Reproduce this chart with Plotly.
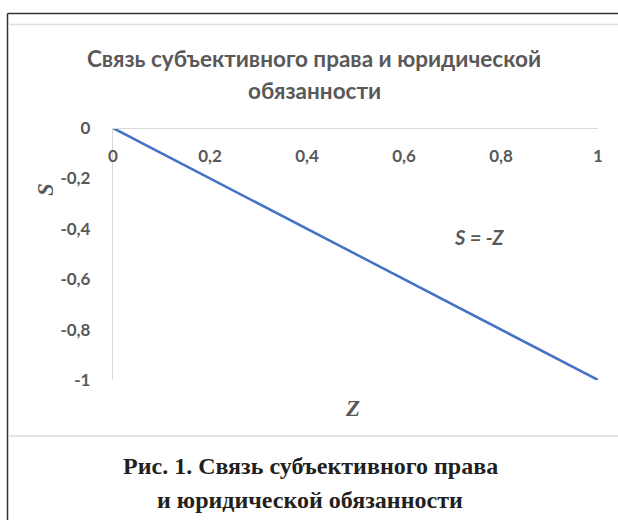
import plotly.graph_objects as go

# Data
z_values = [0, 1]
s_values = [0, -1]
x_tickvals = [0, 0.2, 0.4, 0.6, 0.8, 1]
x_ticktext = ["0", "0,2", "0,4", "0,6", "0,8", "1"]
y_tickvals = [0, -0.2, -0.4, -0.6, -0.8, -1]
y_ticktext = ["0", "-0,2", "-0,4", "-0,6", "-0,8", "-1"]
title_lines = ["Связь субъективного права и юридической", "обязанности"]
caption_lines = ["Рис. 1. Связь субъективного права", "и юридической обязанности"]
equation = "S = -Z"

W, H = 618, 520
L, R, T, B = 113, 20, 128, 140
TXT = "#595959"
GRID = "#d9d9d9"
SANS = "Lato, 'Open Sans', sans-serif"
SERIF = "'Liberation Serif', 'Times New Roman', serif"

pw, ph = W - L - R, H - T - B
def px_x(px):
    return (px - L) / pw
def px_y(py):
    return (H - B - py) / ph

fig = go.Figure()
fig.add_trace(go.Scatter(x=z_values, y=s_values, mode="lines",
                         line=dict(color="#4472c4", width=2.5),
                         hoverinfo="skip", showlegend=False))

fig.update_layout(
    width=W, height=H,
    margin=dict(l=L, r=R, t=T, b=B),
    paper_bgcolor="white", plot_bgcolor="white",
    showlegend=False,
    xaxis=dict(range=[0, 1], tickvals=x_tickvals, ticktext=x_ticktext,
               anchor="free", position=1, side="bottom",
               showline=True, linecolor=GRID, linewidth=1.3,
               showgrid=False, zeroline=False, ticks="",
               ticklabelstandoff=12,
               tickfont=dict(family=SANS, size=17, color=TXT, weight="bold")),
    yaxis=dict(range=[-1, 0], tickvals=y_tickvals, ticktext=y_ticktext,
               showline=True, linecolor=GRID, linewidth=1.3,
               showgrid=False, zeroline=False, ticks="",
               ticklabelstandoff=18,
               tickfont=dict(family=SANS, size=17, color=TXT, weight="bold")),
)

ann = []
for i, line in enumerate(title_lines):
    ann.append(dict(text=line, x=px_x(314), y=px_y(58 + 32 * i),
                    xref="paper", yref="paper", showarrow=False,
                    xanchor="center", yanchor="middle",
                    font=dict(family=SANS, size=22.5, color=TXT, weight="bold")))
for i, line in enumerate(caption_lines):
    ann.append(dict(text=line, x=px_x(310), y=px_y(466 + 34 * i),
                    xref="paper", yref="paper", showarrow=False,
                    xanchor="center", yanchor="middle",
                    font=dict(family=SERIF, size=24, color="#231f20", weight="bold")))
ann.append(dict(text="<i><b>S</b></i>", x=px_x(45), y=px_y(190), xref="paper", yref="paper",
                showarrow=False, textangle=-90, xanchor="center", yanchor="middle",
                font=dict(family=SERIF, size=23, color=TXT)))
ann.append(dict(text="<i><b>Z</b></i>", x=px_x(352), y=px_y(408), xref="paper", yref="paper",
                showarrow=False, xanchor="center", yanchor="middle",
                font=dict(family=SERIF, size=23, color=TXT)))
ann.append(dict(text="<i>" + equation + "</i>", x=px_x(479), y=px_y(237), xref="paper", yref="paper",
                showarrow=False, xanchor="center", yanchor="middle",
                font=dict(family=SANS, size=20, color=TXT, weight="bold")))

shapes = [
    dict(type="line", xref="paper", yref="paper", x0=px_x(7.5), x1=px_x(W), y0=px_y(13.5), y1=px_y(13.5),
         line=dict(color="#333333", width=1.5)),
    dict(type="line", xref="paper", yref="paper", x0=px_x(7.5), x1=px_x(7.5), y0=px_y(H), y1=px_y(13.5),
         line=dict(color="#333333", width=1.5)),
    dict(type="line", xref="paper", yref="paper", x0=px_x(8.5), x1=px_x(W), y0=px_y(24.5), y1=px_y(24.5),
         line=dict(color="#e0e0e0", width=1.5)),
    dict(type="line", xref="paper", yref="paper", x0=px_x(8.5), x1=px_x(W), y0=px_y(436), y1=px_y(436),
         line=dict(color="#dcdcdc", width=1.3)),
]

fig.update_layout(annotations=ann, shapes=shapes)
fig.write_html("out.html", config={"displayModeBar": False},
               post_script="document.body.style.margin='0px';")
